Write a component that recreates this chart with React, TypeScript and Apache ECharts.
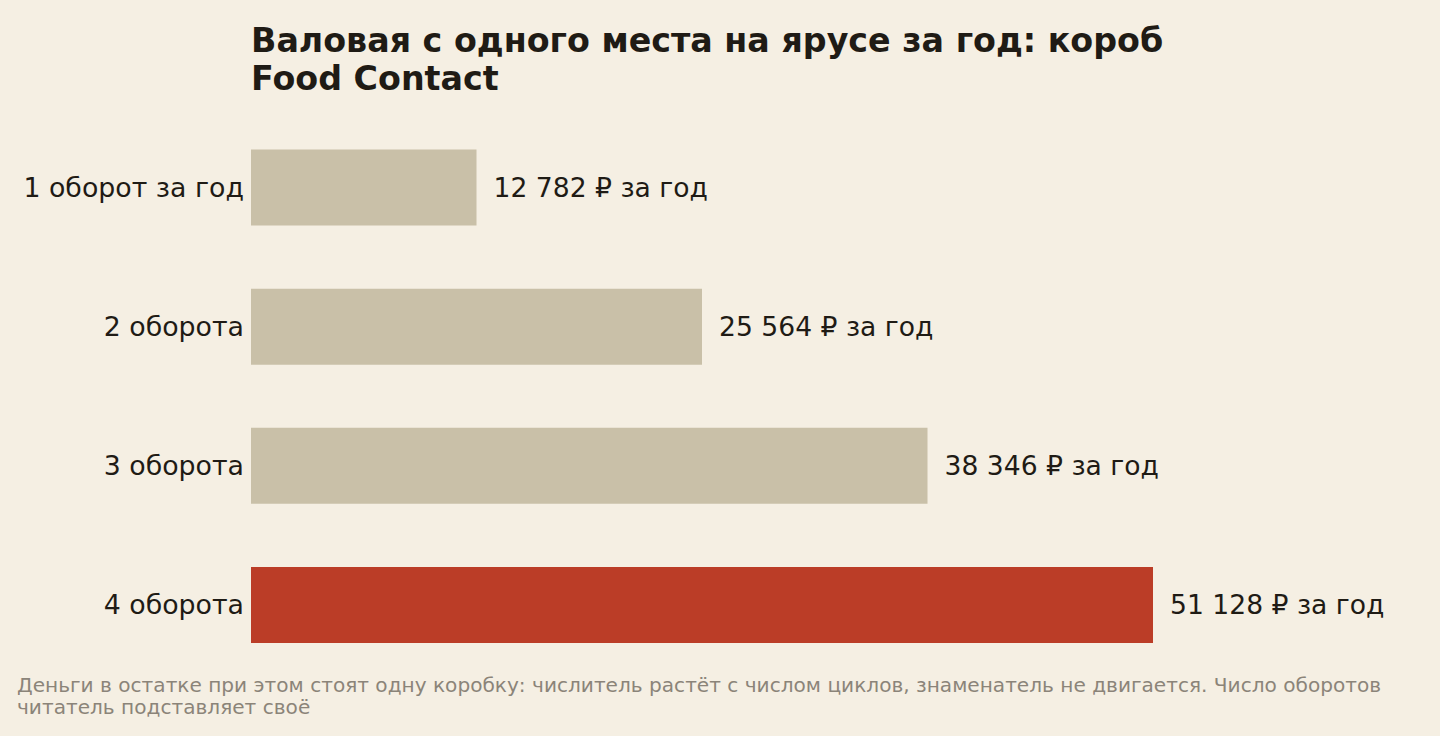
import { useEffect, useRef } from "react";
import * as echarts from "echarts";

const categories = ["1 оборот за год", "2 оборота", "3 оборота", "4 оборота"];
const values = [12782, 25564, 38346, 51128];
const highlightIndex = 3;

const titleText = "Валовая с одного места на ярусе за год: короб\nFood Contact";
const noteText =
  "Деньги в остатке при этом стоят одну коробку: числитель растёт с числом циклов, знаменатель не двигается. Число оборотов\nчитатель подставляет своё";

const FONT = "'DejaVu Sans', sans-serif";
const BG = "#f5efe3";
const INK = "#1f1b15";

function fmt(v: number): string {
  return String(v).replace(/\B(?=(\d{3})+(?!\d))/g, " ") + " ₽ за год";
}

export default function App() {
  const ref = useRef<HTMLDivElement | null>(null);

  useEffect(() => {
    if (!ref.current) return;
    const chart = echarts.init(ref.current, undefined, { renderer: "svg" });
    const axisMax = 60000;
    // 902px for 51128 in the reference
    const gridWidth = (902 / 51128) * axisMax;

    chart.setOption({
      animation: false,
      backgroundColor: BG,
      textStyle: { fontFamily: FONT },
      title: [
        {
          text: titleText,
          left: 246,
          top: 16,
          textStyle: {
            fontFamily: FONT,
            fontSize: 33.3,
            fontWeight: "bold",
            lineHeight: 38,
            color: INK,
          },
        },
        {
          text: noteText,
          left: 12,
          top: 669,
          textStyle: {
            fontFamily: FONT,
            fontSize: 20.1,
            fontWeight: "normal",
            lineHeight: 22,
            color: "#8b8479",
          },
        },
      ],
      grid: { left: 251, top: 118, width: gridWidth, height: 556.5 },
      xAxis: {
        type: "value",
        min: 0,
        max: axisMax,
        show: false,
      },
      yAxis: {
        type: "category",
        data: categories,
        inverse: true,
        axisLine: { show: false },
        axisTick: { show: false },
        splitLine: { show: false },
        axisLabel: {
          fontFamily: FONT,
          fontSize: 26.8,
          color: INK,
          margin: 7,
        },
      },
      series: [
        {
          type: "bar",
          barWidth: 76,
          data: values.map((v, i) => ({
            value: v,
            itemStyle: { color: i === highlightIndex ? "#bb3d27" : "#c9c0a8" },
          })),
          label: {
            show: true,
            position: "right",
            distance: 17,
            fontFamily: FONT,
            fontSize: 26.6,
            color: INK,
            formatter: (p: any) => fmt(p.value),
          },
        },
      ],
    });

    return () => chart.dispose();
  }, []);

  return (
    <div
      ref={ref}
      style={{ position: "absolute", left: 0, top: 0, width: 1440, height: 736 }}
    />
  );
}
